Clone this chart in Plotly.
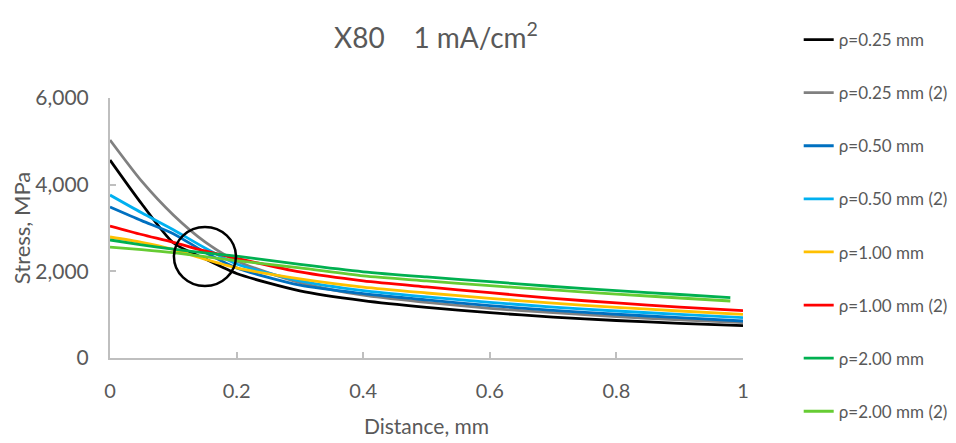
import plotly.graph_objects as go

distance = [0, 0.05, 0.1, 0.15, 0.2, 0.3, 0.4, 0.5, 0.6, 0.7, 0.8, 0.9, 1.0]
distance_short = [0, 0.05, 0.1, 0.15, 0.2, 0.3, 0.4, 0.5, 0.6, 0.7, 0.8, 0.9, 0.98]

rho_025 = [4570, 3560, 2660, 2290, 1950, 1550, 1325, 1170, 1046, 945, 865, 800, 745]
rho_025_2 = [5030, 4080, 3300, 2680, 2240, 1740, 1450, 1285, 1146, 1045, 955, 880, 815]
rho_050 = [3485, 3170, 2870, 2440, 2080, 1680, 1485, 1340, 1208, 1100, 1010, 930, 854]
rho_050_2 = [3760, 3350, 2960, 2540, 2170, 1780, 1555, 1410, 1285, 1175, 1085, 1005, 930]
rho_100 = [2793, 2670, 2505, 2280, 2080, 1825, 1635, 1500, 1377, 1265, 1170, 1085, 1008]
rho_100_2 = [3046, 2850, 2670, 2470, 2300, 1985, 1780, 1640, 1508, 1375, 1270, 1175, 1093]
rho_200 = [2723, 2610, 2510, 2425, 2350, 2160, 1990, 1870, 1762, 1650, 1555, 1465, 1392]
rho_200_2 = [2560, 2500, 2430, 2340, 2245, 2080, 1895, 1780, 1669, 1570, 1475, 1385, 1315]

series = [
    ("ρ=0.25 mm", distance, rho_025, "#000000"),
    ("ρ=0.25 mm (2)", distance, rho_025_2, "#808080"),
    ("ρ=0.50 mm", distance, rho_050, "#0070c0"),
    ("ρ=0.50 mm (2)", distance, rho_050_2, "#00b0f0"),
    ("ρ=1.00 mm", distance, rho_100, "#ffc000"),
    ("ρ=1.00 mm (2)", distance, rho_100_2, "#ff0000"),
    ("ρ=2.00 mm", distance_short, rho_200, "#00b050"),
    ("ρ=2.00 mm (2)", distance_short, rho_200_2, "#66cc33"),
]

FONT = "Lato, Open Sans, sans-serif"
GREY = "#595959"
AXIS = "#bfbfbf"

fig = go.Figure()
for i, (name, xs, ys, color) in enumerate(series):
    fig.add_trace(go.Scatter(
        x=xs, y=ys, name=name, mode="lines",
        line=dict(color=color, width=2.8, shape="spline", smoothing=0.7),
        legendgroup=f"g{i}",
    ))

fig.add_shape(type="circle", xref="x", yref="y",
              x0=0.101, x1=0.199, y0=1662, y1=3023,
              line=dict(color="#000000", width=2.5))

# page body has an 8px default margin, so the figure is drawn 8px in from the top-left
W, H = 948, 435
fig.update_layout(
    width=W, height=H,
    margin=dict(l=102, r=213, t=90, b=85, autoexpand=False),
    paper_bgcolor="white", plot_bgcolor="white",
    font=dict(family=FONT, color=GREY, size=19),
    title=dict(text="X80\u00a0\u00a0\u00a0\u00a01 mA/cm<sup>2</sup>", x=428 / W,
               xanchor="center", y=1 - 30 / H, yanchor="middle",
               font=dict(family=FONT, size=28, color=GREY)),
    showlegend=True,
    legend=dict(x=1.088, xanchor="left", y=(358 - 22) / 260, yanchor="top",
                maxheight=430,
                font=dict(family=FONT, size=17, color=GREY),
                tracegroupgap=28, bgcolor="rgba(0,0,0,0)"),
    xaxis=dict(range=[0, 1], tickvals=[0, 0.2, 0.4, 0.6, 0.8, 1], ticktext=["0", "0.2", "0.4", "0.6", "0.8", "1"],
               showgrid=False, zeroline=False, showline=True, linecolor=AXIS, linewidth=2,
               ticks="inside", ticklen=6, tickcolor=AXIS, tickwidth=2, ticklabelstandoff=14,
               title=dict(text="Distance, mm", font=dict(size=21, color=GREY), standoff=18),
               tickfont=dict(size=20, color=GREY)),
    yaxis=dict(range=[0, 6000], tickvals=[0, 2000, 4000, 6000], tickformat=",",
               showgrid=False, zeroline=False, showline=True, linecolor=AXIS, linewidth=2,
               ticks="inside", ticklen=6, tickcolor=AXIS, tickwidth=2, ticklabelstandoff=15,
               title=dict(text="Stress, MPa", font=dict(size=22, color=GREY), standoff=8),
               tickfont=dict(size=21, color=GREY)),
)

fig.write_html("out.html")
